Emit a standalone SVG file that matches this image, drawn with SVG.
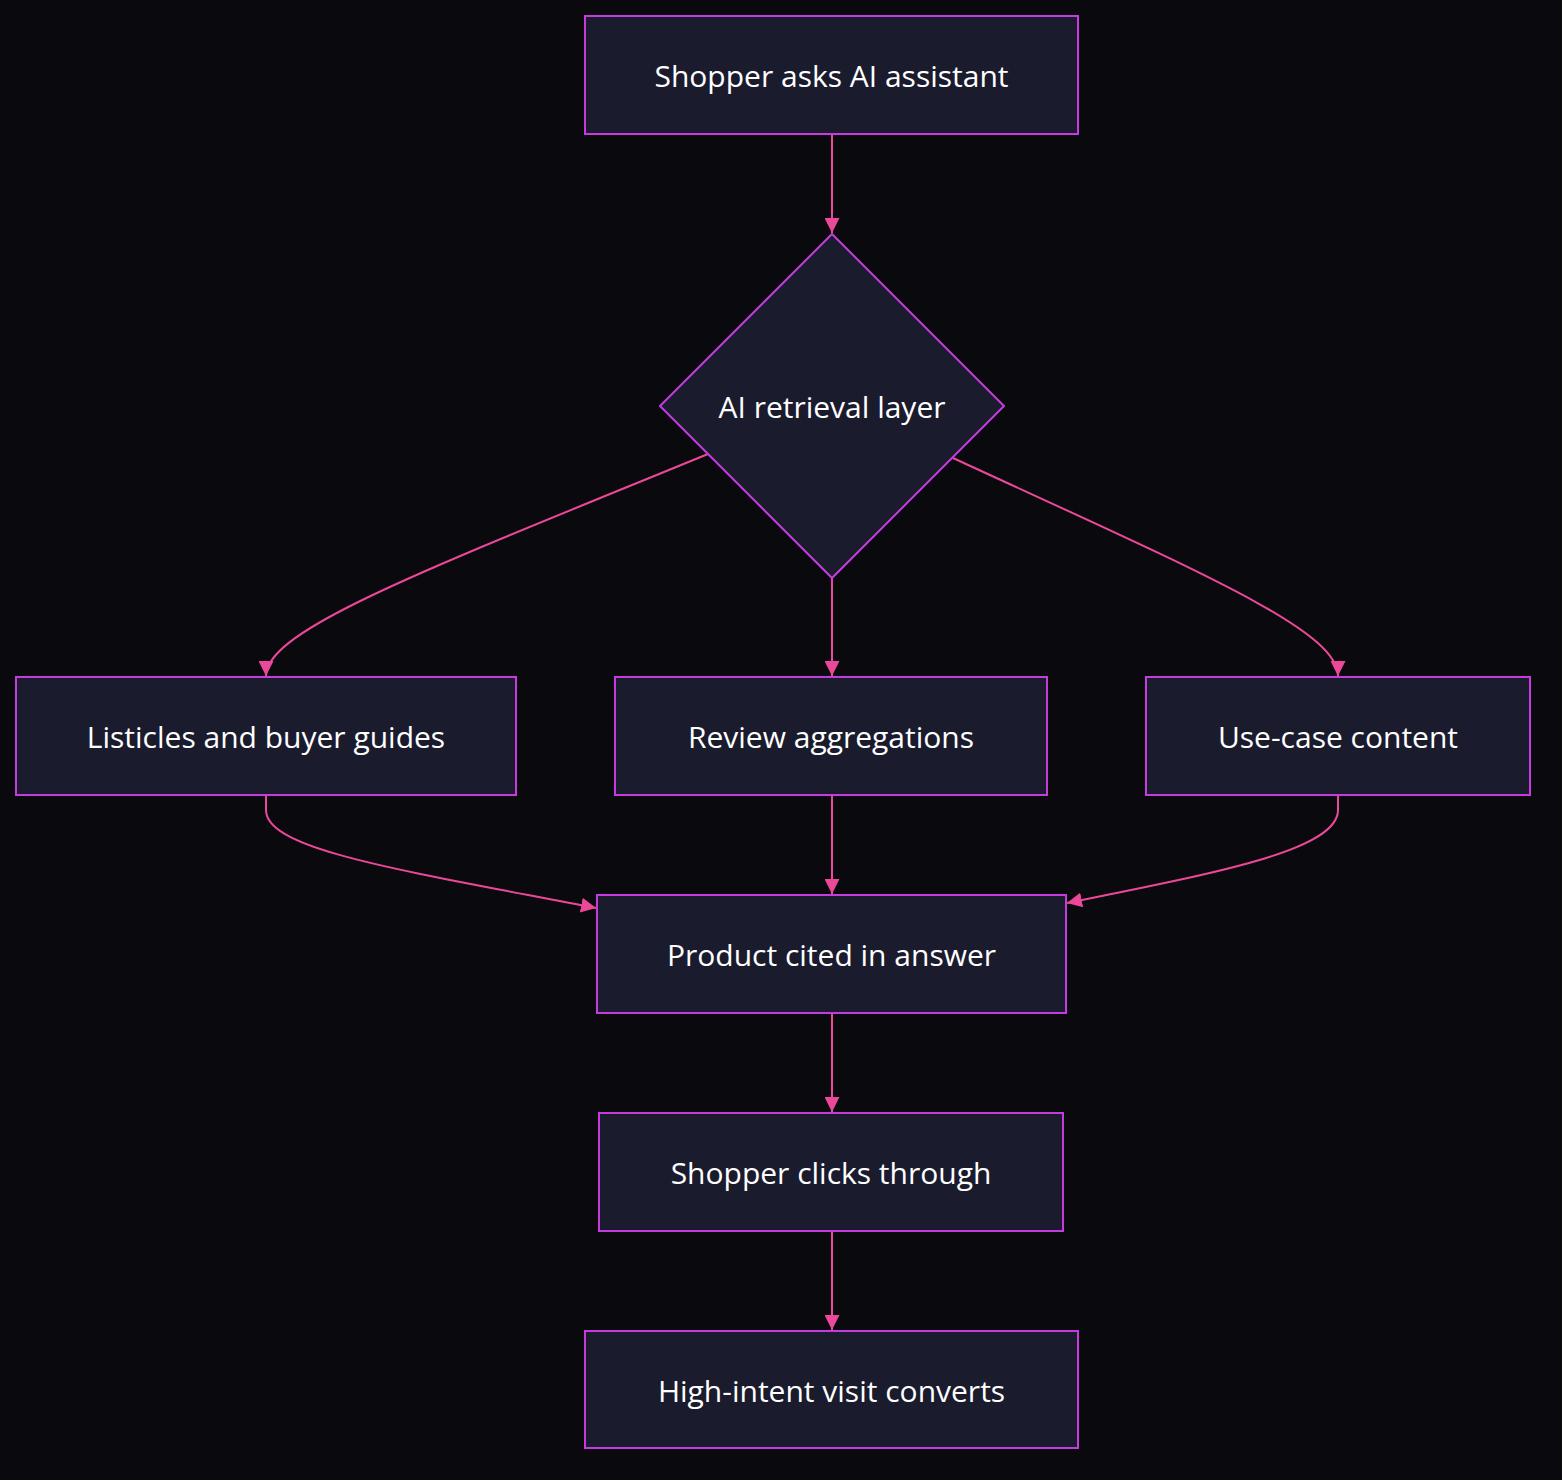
<svg xmlns="http://www.w3.org/2000/svg" width="1562" height="1480" viewBox="0 0 1562 1480">
<style>
.node rect,.node polygon{fill:#1b1b2e;stroke:#c53be0;stroke-width:2}
.node text{fill:#ffffff;font-family:"Open Sans","Noto Sans",sans-serif;font-size:30px;text-anchor:middle;dominant-baseline:central}
.edges path{fill:none;stroke:#ec4899;stroke-width:2}
</style>
<defs>
<marker id="arr" viewBox="0 0 10 10" refX="10" refY="5" markerWidth="15" markerHeight="15" markerUnits="userSpaceOnUse" orient="auto">
<path d="M0,0 L10,5 L0,10 z" fill="#ec4899"/>
</marker>
</defs>
<rect width="1562" height="1480" fill="#09090e"/>
<g class="edges">
<path d="M832,135 L832,233" marker-end="url(#arr)"/>
<path d="M708,454 C420,572 266,630 266,676" marker-end="url(#arr)"/>
<path d="M832,578 L832,676" marker-end="url(#arr)"/>
<path d="M953,458 C1200,572 1338,630 1338,676" marker-end="url(#arr)"/>
<path d="M266,796 L266,810 C266,850 400,870 596,908" marker-end="url(#arr)"/>
<path d="M832,796 L832,894" marker-end="url(#arr)"/>
<path d="M1338,796 L1338,810 C1338,850 1220,872 1067,903" marker-end="url(#arr)"/>
<path d="M832,1014 L832,1112" marker-end="url(#arr)"/>
<path d="M832,1232 L832,1330" marker-end="url(#arr)"/>
</g>
<g id="n1" class="node"><rect x="585" y="16" width="493" height="118"/><text x="831.5" y="75">Shopper asks AI assistant</text></g>
<g id="n2" class="node"><polygon points="832,234 1004,406 832,578 660,406"/><text x="832" y="406">AI retrieval layer</text></g>
<g id="n3" class="node"><rect x="16" y="677" width="500" height="118"/><text x="266" y="736">Listicles and buyer guides</text></g>
<g id="n4" class="node"><rect x="615" y="677" width="432" height="118"/><text x="831" y="736">Review aggregations</text></g>
<g id="n5" class="node"><rect x="1146" y="677" width="384" height="118"/><text x="1338" y="736">Use-case content</text></g>
<g id="n6" class="node"><rect x="597" y="895" width="469" height="118"/><text x="831.5" y="954">Product cited in answer</text></g>
<g id="n7" class="node"><rect x="599" y="1113" width="464" height="118"/><text x="831" y="1172">Shopper clicks through</text></g>
<g id="n8" class="node"><rect x="585" y="1331" width="493" height="117"/><text x="831.5" y="1390">High-intent visit converts</text></g>
</svg>
